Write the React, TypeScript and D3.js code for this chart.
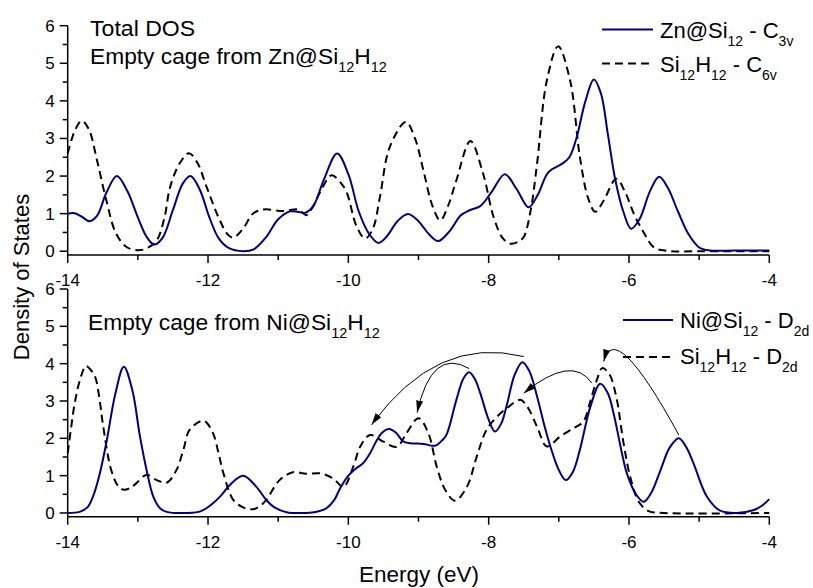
import React from "react";
import * as d3 from "d3";

// ---------- DATA ----------
const xMajorTicks = [-14, -12, -10, -8, -6, -4];
const xMinorTicks = [-13, -11, -9, -7, -5];
const yMajorTicks = [0, 1, 2, 3, 4, 5, 6];
const yMinorTicks = [0.5, 1.5, 2.5, 3.5, 4.5, 5.5];

// Top panel: Zn@Si12 - C3v (solid)
const znSi12: [number, number][] = [
  [-14.0, 1.0], [-13.9, 1.01], [-13.8, 0.92], [-13.69, 0.8], [-13.58, 0.95], [-13.45, 1.55],
  [-13.3, 2.0], [-13.15, 1.6], [-13.0, 0.9], [-12.88, 0.4], [-12.77, 0.18], [-12.65, 0.35],
  [-12.5, 1.1], [-12.36, 1.8], [-12.25, 2.0], [-12.12, 1.65], [-11.98, 0.9], [-11.85, 0.35],
  [-11.7, 0.08], [-11.5, 0.0], [-11.35, 0.05], [-11.17, 0.38], [-11.0, 0.85], [-10.83, 1.06],
  [-10.72, 1.05], [-10.62, 1.02], [-10.5, 1.2], [-10.35, 1.9], [-10.16, 2.6], [-10.0, 2.05],
  [-9.85, 1.05], [-9.7, 0.45], [-9.57, 0.22], [-9.45, 0.4], [-9.3, 0.8], [-9.15, 0.99],
  [-9.0, 0.8], [-8.85, 0.45], [-8.72, 0.27], [-8.55, 0.55], [-8.4, 0.95], [-8.27, 1.09],
  [-8.12, 1.2], [-7.95, 1.6], [-7.77, 2.05], [-7.6, 1.65], [-7.43, 1.17], [-7.3, 1.5],
  [-7.15, 2.1], [-6.95, 2.33], [-6.85, 2.5], [-6.75, 3.0], [-6.62, 4.0], [-6.5, 4.57],
  [-6.4, 4.2], [-6.3, 3.1], [-6.2, 1.95], [-6.08, 1.05], [-5.97, 0.6], [-5.85, 0.85],
  [-5.7, 1.6], [-5.57, 1.98], [-5.45, 1.7], [-5.3, 1.05], [-5.15, 0.45], [-5.0, 0.1],
  [-4.85, 0.02], [-4.5, 0.02], [-4.0, 0.02],
];

// Top panel: Si12H12 - C6v (dashed)
const si12h12C6v: [number, number][] = [
  [-14.0, 2.6], [-13.9, 3.2], [-13.8, 3.47], [-13.7, 3.25], [-13.58, 2.4], [-13.45, 1.36],
  [-13.31, 0.47], [-13.15, 0.1], [-12.97, 0.03], [-12.85, 0.1], [-12.73, 0.29], [-12.62, 0.9],
  [-12.54, 1.71], [-12.4, 2.35], [-12.27, 2.61], [-12.15, 2.35], [-12.02, 1.71], [-11.85, 0.9],
  [-11.72, 0.45], [-11.64, 0.36], [-11.5, 0.6], [-11.36, 1.0], [-11.21, 1.11], [-10.93, 1.07],
  [-10.71, 1.11], [-10.6, 0.96], [-10.5, 1.2], [-10.4, 1.58], [-10.24, 2.02], [-10.1, 1.8],
  [-10.02, 1.55], [-9.88, 0.65], [-9.76, 0.34], [-9.65, 0.6], [-9.55, 1.44], [-9.41, 2.77],
  [-9.18, 3.44], [-9.05, 3.0], [-8.93, 2.15], [-8.8, 1.2], [-8.69, 0.82], [-8.58, 1.2],
  [-8.46, 1.89], [-8.26, 2.93], [-8.08, 2.07], [-7.93, 0.91], [-7.8, 0.35], [-7.69, 0.2],
  [-7.58, 0.25], [-7.5, 0.38], [-7.4, 1.1], [-7.31, 2.33], [-7.17, 4.55], [-7.01, 5.45],
  [-6.84, 4.55], [-6.7, 2.51], [-6.58, 1.4], [-6.48, 1.05], [-6.36, 1.35], [-6.18, 1.93],
  [-6.05, 1.55], [-5.92, 0.95], [-5.79, 0.5], [-5.65, 0.11], [-5.46, 0.01], [-5.0, 0.0],
  [-4.0, 0.0],
];

// Bottom panel: Ni@Si12 - D2d (solid)
const niSi12: [number, number][] = [
  [-14.0, 0.0], [-13.83, 0.03], [-13.72, 0.15], [-13.64, 0.44], [-13.55, 1.0], [-13.45, 1.87],
  [-13.32, 3.2], [-13.2, 3.92], [-13.08, 3.3], [-12.97, 2.05], [-12.87, 1.1], [-12.78, 0.44],
  [-12.68, 0.12], [-12.59, 0.03], [-12.3, 0.0], [-12.1, 0.05], [-11.93, 0.26], [-11.8, 0.5],
  [-11.69, 0.75], [-11.5, 1.0], [-11.31, 0.7], [-11.17, 0.35], [-11.07, 0.17], [-10.88, 0.02],
  [-10.6, 0.0], [-10.45, 0.03], [-10.31, 0.13], [-10.2, 0.35], [-10.12, 0.65], [-10.0, 1.0],
  [-9.9, 1.18], [-9.79, 1.33], [-9.69, 1.6], [-9.6, 1.93], [-9.52, 2.15], [-9.42, 2.25],
  [-9.32, 2.15], [-9.22, 1.92], [-9.12, 1.87], [-8.93, 1.85], [-8.8, 1.8], [-8.74, 1.82],
  [-8.66, 1.95], [-8.6, 2.1], [-8.46, 3.03], [-8.36, 3.6], [-8.28, 3.77], [-8.2, 3.6],
  [-8.12, 3.21], [-8.0, 2.5], [-7.91, 2.18], [-7.82, 2.4], [-7.74, 2.9], [-7.63, 3.7],
  [-7.52, 4.04], [-7.42, 3.8], [-7.31, 3.12], [-7.2, 2.3], [-7.12, 1.78], [-7.0, 1.15],
  [-6.9, 0.88], [-6.8, 1.1], [-6.7, 1.69], [-6.55, 2.85], [-6.41, 3.46], [-6.3, 3.2],
  [-6.22, 2.67], [-6.1, 1.6], [-6.03, 1.06], [-5.9, 0.5], [-5.79, 0.3], [-5.68, 0.55],
  [-5.55, 1.15], [-5.42, 1.75], [-5.29, 2.0], [-5.18, 1.75], [-5.08, 1.33], [-4.89, 0.44],
  [-4.7, 0.06], [-4.46, 0.0], [-4.22, 0.08], [-4.1, 0.2], [-4.0, 0.37],
];

// Bottom panel: Si12H12 - D2d (dashed)
const si12h12D2d: [number, number][] = [
  [-14.0, 1.6], [-13.95, 2.3], [-13.9, 2.94], [-13.82, 3.6], [-13.74, 3.94], [-13.68, 3.85],
  [-13.61, 3.65], [-13.55, 3.1], [-13.5, 2.4], [-13.38, 1.15], [-13.28, 0.72], [-13.2, 0.62],
  [-13.1, 0.68], [-13.02, 0.8], [-12.88, 1.02], [-12.73, 0.88], [-12.59, 0.81], [-12.45, 1.15],
  [-12.35, 1.7], [-12.26, 2.23], [-12.06, 2.47], [-11.93, 2.14], [-11.85, 1.6], [-11.78, 1.06],
  [-11.64, 0.35], [-11.5, 0.15], [-11.36, 0.1], [-11.25, 0.2], [-11.17, 0.35], [-10.98, 0.88],
  [-10.79, 1.09], [-10.6, 1.05], [-10.4, 1.06], [-10.22, 0.93], [-10.07, 0.7], [-9.93, 1.24],
  [-9.83, 1.78], [-9.69, 2.09], [-9.5, 1.91], [-9.31, 1.77], [-9.17, 2.14], [-9.0, 2.54],
  [-8.86, 2.14], [-8.74, 1.24], [-8.62, 0.62], [-8.48, 0.33], [-8.31, 0.7], [-8.17, 1.51],
  [-8.03, 2.23], [-7.88, 2.58], [-7.74, 2.81], [-7.55, 3.03], [-7.45, 2.85], [-7.31, 2.31],
  [-7.17, 1.78], [-6.98, 2.05], [-6.79, 2.27], [-6.65, 2.45], [-6.55, 3.0], [-6.46, 3.55],
  [-6.38, 3.88], [-6.28, 3.72], [-6.18, 3.1], [-6.08, 1.9], [-5.98, 0.95], [-5.86, 0.3],
  [-5.72, 0.05], [-5.5, 0.0], [-4.0, 0.0],
];

// Annotation arrows in the bottom panel (data units): from, control, to
const niArrows: { from: [number, number]; ctrl: [number, number]; to: [number, number] }[] = [
  { from: [-7.5, 4.19], ctrl: [-8.74, 4.77], to: [-9.67, 2.36] },
  { from: [-8.28, 3.87], ctrl: [-8.81, 4.45], to: [-9.02, 2.69] },
  { from: [-6.53, 3.48], ctrl: [-6.81, 4.26], to: [-7.5, 3.21] },
  { from: [-5.29, 2.09], ctrl: [-6.2, 5.23], to: [-6.36, 4.06] },
];

type Part = { t: string; sub?: boolean };
const topTitle1: Part[] = [{ t: "Total DOS" }];
const topTitle2: Part[] = [{ t: "Empty cage from Zn@Si" }, { t: "12", sub: true }, { t: "H" }, { t: "12", sub: true }];
const botTitle: Part[] = [{ t: "Empty cage from Ni@Si" }, { t: "12", sub: true }, { t: "H" }, { t: "12", sub: true }];
const legZn: Part[] = [{ t: "Zn@Si" }, { t: "12", sub: true }, { t: " - C" }, { t: "3v", sub: true }];
const legZnEmpty: Part[] = [{ t: "Si" }, { t: "12", sub: true }, { t: "H" }, { t: "12", sub: true }, { t: " - C" }, { t: "6v", sub: true }];
const legNi: Part[] = [{ t: "Ni@Si" }, { t: "12", sub: true }, { t: " - D" }, { t: "2d", sub: true }];
const legNiEmpty: Part[] = [{ t: "Si" }, { t: "12", sub: true }, { t: "H" }, { t: "12", sub: true }, { t: " - D" }, { t: "2d", sub: true }];

// ---------- RENDER ----------
const W = 813;
const H = 588;
const FONT = "'Liberation Sans', Arial, sans-serif";
const NAVY = "#000080";

const x = d3.scaleLinear().domain([-14, -4]).range([67.7, 769.3]);
const yTop = d3.scaleLinear().domain([-0.1, 6]).range([255, 25.7]);
const yBot = d3.scaleLinear().domain([-0.1, 6]).range([516.7, 289]);

function Rich({ x, y, parts, size = 22, subSize = 14, subDy = 8, sx = 1.035 }: { x: number; y: number; parts: Part[]; size?: number; subSize?: number; subDy?: number; sx?: number }) {
  let cur = 0;
  return (
    <g transform={`translate(${x},${y}) scale(${sx},1)`}>
      <text x={0} y={0} fontSize={size} fontFamily={FONT} fill="#000">
        {parts.map((p, i) => {
          const target = p.sub ? subDy : 0;
          const dy = target - cur;
          cur = target;
          return (
            <tspan key={i} dy={dy} fontSize={p.sub ? subSize : size}>
              {p.t}
            </tspan>
          );
        })}
      </text>
    </g>
  );
}

function Panel({ y, solid, dashed }: { y: d3.ScaleLinear<number, number>; solid: [number, number][]; dashed: [number, number][] }) {
  const line = d3
    .line<[number, number]>()
    .x((d) => x(d[0]))
    .y((d) => y(d[1]))
    .curve(d3.curveCatmullRom.alpha(0.5));
  const x0 = x(-14);
  const yAxisY = y(-0.1);
  return (
    <g>
      <path d={line(dashed) || ""} fill="none" stroke="#000" strokeWidth={2} strokeDasharray="8,5" />
      <path d={line(solid) || ""} fill="none" stroke={NAVY} strokeWidth={2} />
      {/* axes */}
      <line x1={x0} x2={x0} y1={y(6)} y2={yAxisY} stroke="#000" strokeWidth={1.5} />
      <line x1={x0} x2={x(-4)} y1={yAxisY} y2={yAxisY} stroke="#000" strokeWidth={1.5} />
      {yMajorTicks.map((t) => (
        <g key={"ym" + t}>
          <line x1={x0 - 8} x2={x0} y1={y(t)} y2={y(t)} stroke="#000" strokeWidth={1.5} />
          <text x={x0 - 13} y={y(t)} dy="0.35em" textAnchor="end" fontSize={17} fontFamily={FONT}>
            {t}
          </text>
        </g>
      ))}
      {yMinorTicks.map((t) => (
        <line key={"yn" + t} x1={x0 - 5} x2={x0} y1={y(t)} y2={y(t)} stroke="#000" strokeWidth={1.5} />
      ))}
      {xMajorTicks.map((t) => (
        <g key={"xm" + t}>
          <line x1={x(t)} x2={x(t)} y1={yAxisY} y2={yAxisY + 8} stroke="#000" strokeWidth={1.5} />
          <text x={x(t)} y={yAxisY + 31} textAnchor="middle" fontSize={17} fontFamily={FONT}>
            {t}
          </text>
        </g>
      ))}
      {xMinorTicks.map((t) => (
        <line key={"xn" + t} x1={x(t)} x2={x(t)} y1={yAxisY} y2={yAxisY + 5} stroke="#000" strokeWidth={1.5} />
      ))}
    </g>
  );
}

export default function App() {
  const arrowPath = (a: { from: [number, number]; ctrl: [number, number]; to: [number, number] }) => {
    const p = d3.path();
    p.moveTo(x(a.from[0]), yBot(a.from[1]));
    p.quadraticCurveTo(x(a.ctrl[0]), yBot(a.ctrl[1]), x(a.to[0]), yBot(a.to[1]));
    return p.toString();
  };
  return (
    <svg width={W} height={H} style={{ position: "absolute", left: 0, top: 0, background: "#fff" }}>
      <defs>
        <marker id="ah" markerUnits="userSpaceOnUse" markerWidth={13} markerHeight={7} refX={12} refY={3.5} orient="auto">
          <path d="M0,0 L12,3.5 L0,7 Z" fill="#000" />
        </marker>
      </defs>
      <rect x={0} y={0} width={W} height={H} fill="#fff" />
      <Panel y={yTop} solid={znSi12} dashed={si12h12C6v} />
      <Panel y={yBot} solid={niSi12} dashed={si12h12D2d} />

      {niArrows.map((a, i) => (
        <path key={i} d={arrowPath(a)} fill="none" stroke="#000" strokeWidth={1} markerEnd="url(#ah)" />
      ))}

      {/* titles */}
      <Rich x={90} y={36} parts={topTitle1} sx={1.05} />
      <Rich x={90} y={64} parts={topTitle2} />
      <Rich x={88} y={330} parts={botTitle} />

      {/* legends */}
      <line x1={602} x2={653} y1={29.5} y2={29.5} stroke={NAVY} strokeWidth={2} />
      <Rich x={660} y={38} parts={legZn} sx={1} />
      <line x1={602} x2={653} y1={63.5} y2={63.5} stroke="#000" strokeWidth={2} strokeDasharray="8,5" />
      <Rich x={660} y={72} parts={legZnEmpty} sx={1} />

      <line x1={623} x2={673} y1={320} y2={320} stroke={NAVY} strokeWidth={2} />
      <Rich x={680} y={328} parts={legNi} sx={1} />
      <line x1={623} x2={673} y1={357} y2={357} stroke="#000" strokeWidth={2} strokeDasharray="8,5" />
      <Rich x={680} y={364} parts={legNiEmpty} sx={1} />

      {/* axis titles */}
      <text
        transform="translate(29,277) rotate(-90)"
        textAnchor="middle"
        fontSize={22}
        fontFamily={FONT}
      >
        Density of States
      </text>
      <text x={419} y={582} textAnchor="middle" fontSize={22.5} fontFamily={FONT}>
        Energy (eV)
      </text>
    </svg>
  );
}
